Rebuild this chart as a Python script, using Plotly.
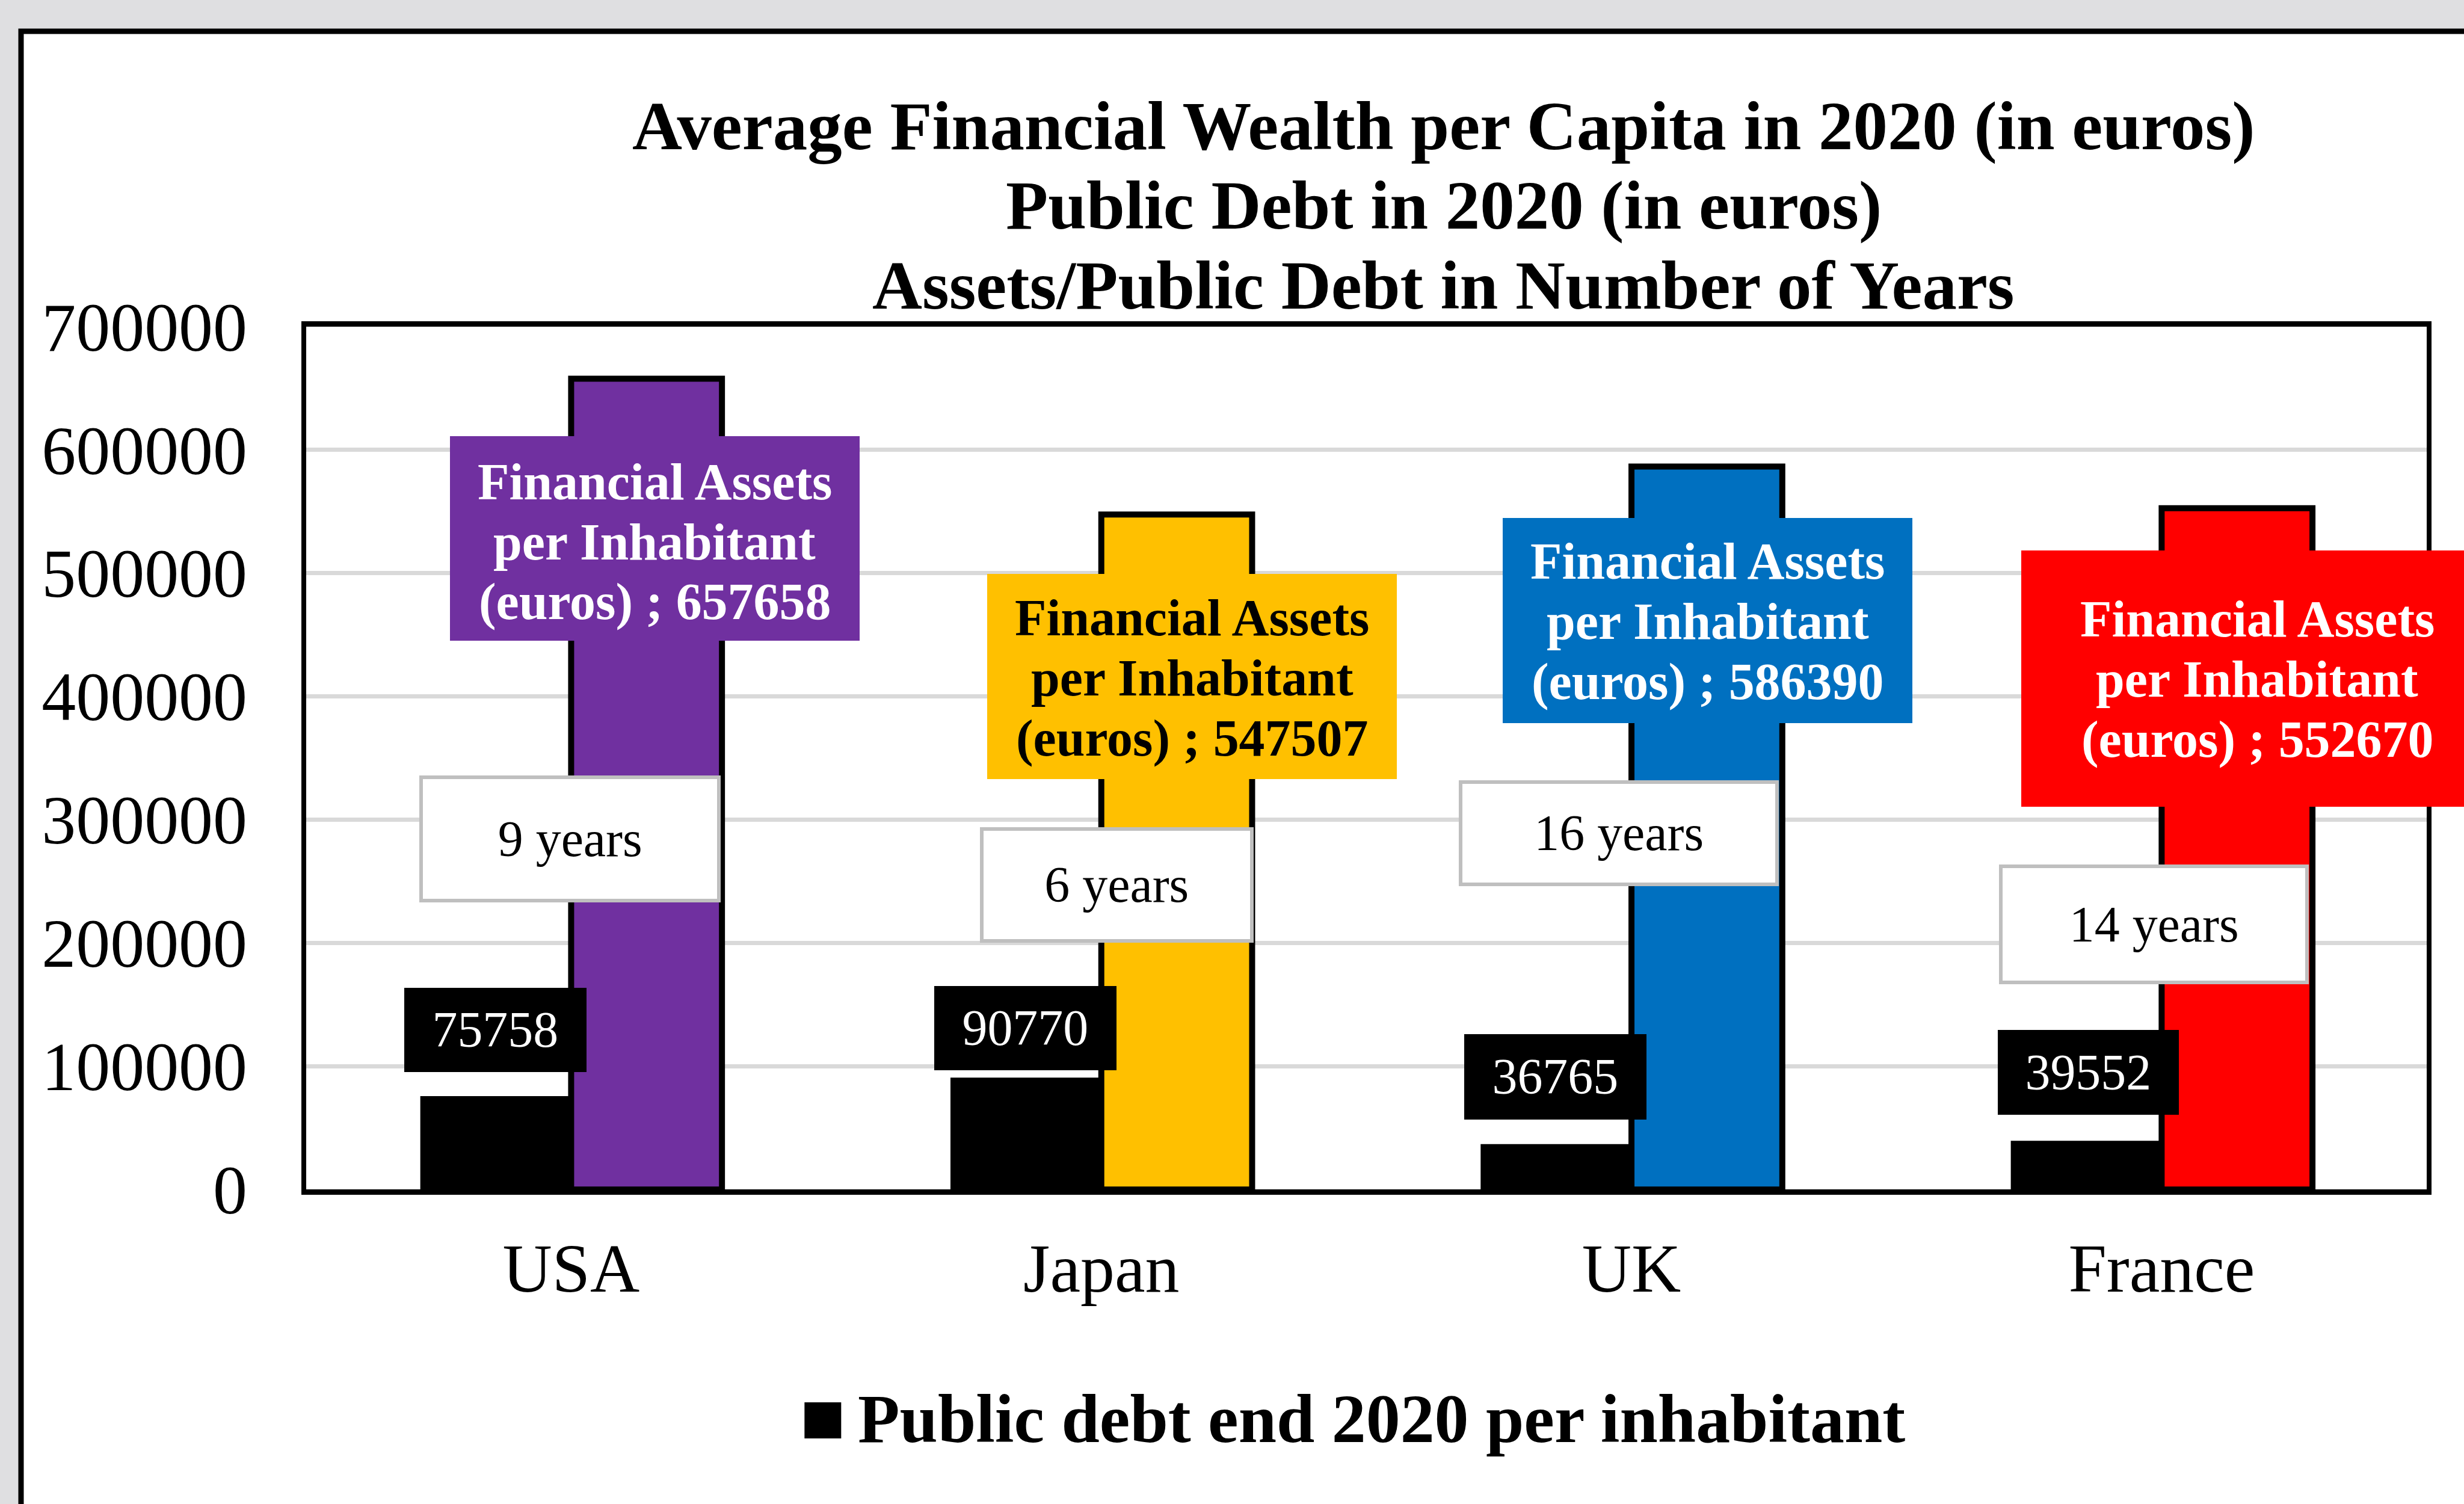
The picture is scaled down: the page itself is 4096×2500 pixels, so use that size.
import plotly.graph_objects as go

# ---------------- data ----------------
categories = ["USA", "Japan", "UK", "France"]
public_debt = [75758, 90770, 36765, 39552]
financial_assets = [657658, 547507, 586390, 552670]
years = [9, 6, 16, 14]
y_tick_values = [0, 100000, 200000, 300000, 400000, 500000, 600000, 700000]
y_tick_labels = ["0", "100000", "200000", "300000", "400000", "500000", "600000", "700000"]
title_lines = [
    "Average Financial Wealth per Capita in 2020 (in euros)",
    "Public Debt in 2020 (in euros)",
    "Assets/Public Debt in Number of Years",
]
legend_label = "Public debt end 2020 per inhabitant"
asset_label_lines = ["Financial Assets", "per Inhabitant", "(euros) ; {}"]

# ---------------- styles ----------------
asset_colors = ["#7030A0", "#FFC000", "#0070C0", "#FF0000"]
asset_text_colors = ["white", "black", "white", "white"]
FONT = "Liberation Serif, Times New Roman, serif"

RW, RH = 4098, 2501          # reference pixel grid
W, H = 4096, 2500
S = 0.999


def fx(x):
    return x / RW


def fy(y):
    return 1 - y / RH


def p(v):
    return v * S


# label placement (reference pixels, relative to data anchor)
asset_box_dx = [139, 151, 127, 159]
asset_box_gap = [96, 99, 85, 70]
asset_box_w = [682, 682, 682, 786]
asset_box_h = [340, 341, 341, 426]
asset_first_baseline = [104, 102, 101, 143]
asset_line_step = 100

debt_box_dx = [-126, -126, -127, -122]
debt_box_gap = [40, 12, 41, 43]
debt_box_w = [303, 303, 303, 301]
debt_box_h = [140, 140, 142, 141]

years_box_dx = [-2, 26, -21, -13]
years_box_up = [583, 507, 593, 441]
years_box_w = [502, 455, 533, 516]
years_box_h = [211, 192, 176, 199]

fig = go.Figure()
fig.add_bar(
    x=categories, y=public_debt, name=legend_label,
    marker=dict(color="black", line=dict(color="black", width=0)),
    showlegend=False,
)
fig.add_bar(
    x=categories, y=financial_assets, name="Financial Assets per Inhabitant (euros)",
    marker=dict(color=asset_colors, line=dict(color="black", width=p(10))),
    showlegend=False,
)

ann = []
# title
title_centers = [209.5, 341.5, 474.5]
for line, cy in zip(title_lines, title_centers):
    ann.append(dict(
        text="<b>%s</b>" % line, xref="paper", yref="paper",
        x=fx(2401), y=fy(cy), xanchor="center", yanchor="middle",
        showarrow=False, font=dict(family=FONT, size=p(115), color="black"),
    ))

for i, cat in enumerate(categories):
    # asset label box
    ann.append(dict(
        text=" ", x=cat, y=financial_assets[i], xref="x", yref="y",
        xanchor="center", yanchor="top", showarrow=False,
        xshift=p(asset_box_dx[i]), yshift=-p(asset_box_gap[i]),
        width=p(asset_box_w[i]), height=p(asset_box_h[i]),
        bgcolor=asset_colors[i], borderpad=0, borderwidth=0,
        font=dict(family=FONT, size=p(20)),
    ))
    lines = [asset_label_lines[0], asset_label_lines[1],
             asset_label_lines[2].format(financial_assets[i])]
    for k, ln in enumerate(lines):
        off = asset_box_gap[i] + asset_first_baseline[i] + k * asset_line_step - 28.7
        ann.append(dict(
            text="<b>%s</b>" % ln, x=cat, y=financial_assets[i], xref="x", yref="y",
            xanchor="center", yanchor="middle", showarrow=False,
            xshift=p(asset_box_dx[i]), yshift=-p(off),
            font=dict(family=FONT, size=p(86), color=asset_text_colors[i]),
        ))
    # years label
    ann.append(dict(
        text="%d years" % years[i], x=cat, y=0, xref="x", yref="y",
        xanchor="center", yanchor="middle", showarrow=False,
        xshift=p(years_box_dx[i]), yshift=p(years_box_up[i]),
        width=p(years_box_w[i] - 12), height=p(years_box_h[i] - 12),
        bgcolor="white", bordercolor="#BFBFBF", borderwidth=p(6), borderpad=0,
        font=dict(family=FONT, size=p(84), color="black"),
    ))
    # debt label
    ann.append(dict(
        text=str(public_debt[i]), x=cat, y=public_debt[i], xref="x", yref="y",
        xanchor="center", yanchor="bottom", showarrow=False,
        xshift=p(debt_box_dx[i]), yshift=p(debt_box_gap[i]),
        width=p(debt_box_w[i]), height=p(debt_box_h[i]),
        bgcolor="black", borderpad=0, borderwidth=0,
        font=dict(family=FONT, size=p(84), color="white"),
    ))

# legend (manual)
ann.append(dict(
    text="<b>%s</b>" % legend_label, xref="paper", yref="paper",
    x=fx(1425), y=fy(2359.5), xanchor="left", yanchor="middle", showarrow=False,
    font=dict(family=FONT, size=p(114), color="black"),
))

shapes = [
    # outer white frame
    dict(type="rect", xref="paper", yref="paper", x0=fx(35), y0=-0.1, x1=1.1, y1=fy(52),
         fillcolor="white", line=dict(color="black", width=p(9)), layer="below"),
    # legend key
    dict(type="rect", xref="paper", yref="paper", x0=fx(1338), x1=fx(1399),
         y0=fy(2392), y1=fy(2332), fillcolor="black", line=dict(width=0)),
]

fig.update_layout(
    width=W, height=H, autosize=False,
    margin=dict(l=0, r=0, t=0, b=0, pad=0, autoexpand=False),
    paper_bgcolor="#dfdfe1", plot_bgcolor="white",
    barmode="group", bargap=0.431, bargroupgap=0,
    showlegend=False,
    annotations=ann, shapes=shapes,
    font=dict(family=FONT, color="black"),
    xaxis=dict(
        domain=[fx(509), fx(4036)], range=[-0.5, len(categories) - 0.5],
        showline=True, linecolor="black", linewidth=p(9),
        mirror=True, ticks="", showgrid=False, zeroline=False, automargin=False,
        tickfont=dict(family=FONT, size=p(114), color="black"),
        ticklabelstandoff=24,
    ),
    yaxis=dict(
        domain=[fy(1978), fy(543)], range=[0, 700000],
        tickvals=y_tick_values, ticktext=y_tick_labels,
        showline=True, linecolor="black", linewidth=p(8), mirror=True, automargin=False,
        ticks="", showgrid=True, gridcolor="#D9D9D9", gridwidth=p(7), zeroline=False,
        tickfont=dict(family=FONT, size=p(114), color="black"),
        ticklabelstandoff=67,
    ),
)

fig.write_html(
    "out.html",
    config={"displayModeBar": False},
    post_script="document.body.style.margin='0';document.body.style.overflow='hidden';",
)
